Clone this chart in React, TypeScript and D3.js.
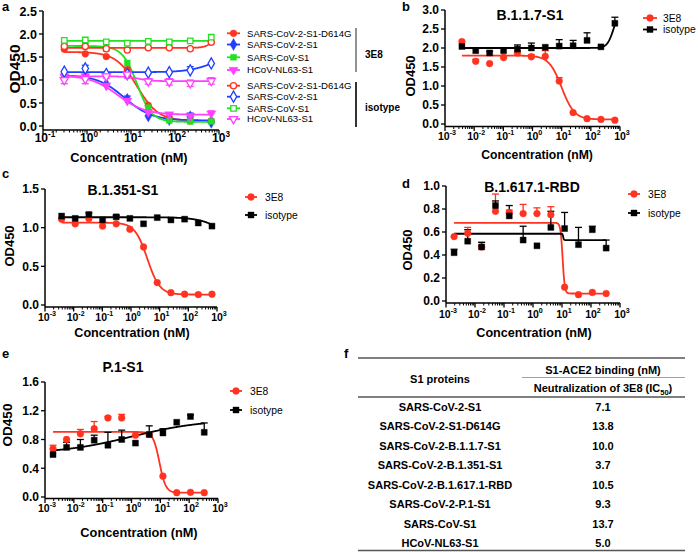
import React from "react";
import * as d3 from "d3";

const FONT = "'Liberation Sans', Arial, Helvetica, sans-serif";
const RED = "#ff3320";
const BLUE = "#2040ff";
const GREEN = "#22e022";
const MAGENTA = "#ff40ff";
const BLACK = "#000000";

// ---------- Panel a data ----------
const concA = [0.305, 0.914, 2.74, 8.23, 24.7, 74.1, 222, 667];
const aD614G3E8 = [1.67, 1.57, 1.51, 1.23, 0.45, 0.19, 0.11, 0.11];
const aCov2S13E8 = [1.1, 1.08, 0.91, 0.58, 0.22, 0.14, 0.2, 0.08];
const aCovS13E8 = [1.78, 1.74, 1.68, 1.37, 0.4, 0.12, 0.1, 0.1];
const aNL633E8 = [1.08, 1.08, 0.88, 0.55, 0.3, 0.25, 0.22, 0.27];
const aD614GIso = [1.73, 1.73, 1.68, 1.65, 1.7, 1.7, 1.68, 1.82];
const aCov2S1Iso = [1.18, 1.25, 1.13, 1.13, 1.16, 1.17, 1.21, 1.36];
const aCovS1Iso = [1.86, 1.87, 1.83, 1.8, 1.84, 1.83, 1.85, 1.93];
const aNL63Iso = [1.0, 1.02, 1.08, 1.12, 0.97, 0.96, 0.93, 0.98];
const aCov2S13E8Err = [null, null, null, 0.65, null, null, 0.28, null];
const aCov2S1IsoErr = [null, 1.32, null, null, null, null, 1.29, null];
const aNL633E8Err = [null, null, null, null, null, null, null, 0.33];
const aNL63IsoSd = [0.08, 0.1, 0.04, 0.08, 0.06, 0.07, 0.07, 0.07];
const seriesLabelsA = ["SARS-CoV-2-S1-D614G", "SARS-CoV-2-S1", "SARS-CoV-S1", "HCoV-NL63-S1"];
const xExpA = [-1, 0, 1, 2, 3];
const yTicksA = [0, 0.5, 1.0, 1.5, 2.0, 2.5];

// ---------- Panel b–e data ----------
const concBC = [0.0038, 0.0113, 0.0339, 0.102, 0.305, 0.914, 2.74, 8.23, 24.7, 74.1, 222, 667];
const concDE = [0.0019, 0.0056, 0.0169, 0.0508, 0.152, 0.457, 1.37, 4.12, 12.3, 37.0, 111, 333];
const xExpWide = [-3, -2, -1, 0, 1, 2, 3];

const b3E8 = [2.17, 1.65, 1.59, 1.75, 1.87, 1.77, 1.78, 1.13, 0.3, 0.14, 0.12, 0.1];
const b3E8Err = [null, 1.7, null, 1.8, 1.92, 1.82, 1.93, 1.22, null, null, null, null];
const bIso = [2.04, 1.93, 1.87, 1.93, 1.97, 2.0, 2.02, 2.05, 2.06, 2.2, 2.03, 2.65];
const bIsoErr = [null, null, 1.91, null, 2.08, 2.13, null, 2.22, 2.2, 2.4, null, 2.81];
const yTicksB = [0, 0.5, 1.0, 1.5, 2.0, 2.5, 3.0];

const c3E8 = [1.11, 1.05, 1.12, 1.02, 1.05, 0.98, 0.75, 0.29, 0.16, 0.14, 0.135, 0.14];
const cIso = [1.15, 1.12, 1.17, 1.1, 1.14, 1.12, 1.05, 1.13, 1.1, 1.11, 1.06, 1.02];
const cIsoErr = [null, null, 1.19, null, 1.16, null, null, null, null, 1.12, null, null];
const yTicksC = [0, 0.5, 1.0, 1.5];

const d3E8 = [0.56, 0.59, 0.47, 0.78, 0.77, 0.76, 0.76, 0.75, 0.12, 0.055, 0.075, 0.065];
const d3E8Err = [null, 0.64, 0.51, 0.93, 0.79, 0.84, 0.81, 0.82, null, null, null, null];
const dIso = [0.42, 0.52, 0.47, 0.83, 0.74, 0.53, 0.48, 0.64, 0.63, 0.49, 0.62, 0.46];
const dIsoErr = [0.45, 0.62, 0.51, 0.87, 0.83, 0.65, null, 0.78, 0.77, 0.64, 0.65, 0.53];
const yTicksD = [0, 0.2, 0.4, 0.6, 0.8, 1.0];

const e3E8 = [0.67, 0.8, 0.88, 0.95, 1.1, 1.1, 0.86, 0.87, 0.29, 0.06, 0.065, 0.06];
const e3E8Err = [0.72, null, 0.94, 1.05, 1.12, 1.15, null, null, null, null, null, null];
const eIso = [0.59, 0.69, 0.69, 0.79, 0.72, 0.8, 0.75, 0.87, 0.89, 1.04, 1.12, 0.9];
const eIsoErr = [null, 0.76, 0.8, 0.86, 0.9, 0.93, null, 0.99, 0.95, null, 1.14, 1.03];
const yTicksE = [0, 0.4, 0.8, 1.2, 1.6];

// fitted curve parameters: [low-conc plateau, high-conc plateau, midpoint (nM), hill]
const fitA = {
  d614g3e8: [1.61, 0.11, 13.8, 1.8],
  cov2s13e8: [1.11, 0.12, 7.1, 1.4],
  covs13e8: [1.74, 0.09, 13.7, 2.6],
  nl633e8: [1.1, 0.245, 5.0, 1.4],
  d614gIso: [1.7, 1.95, 700, 5],
  cov2s1Iso: [1.17, 1.6, 800, 1.5],
  covs1Iso: [1.85, 1.85, 100, 1],
  nl63Iso: [1.08, 0.975, 15, 3],
};
const fitB = { e8: [1.8, 0.12, 10.0, 2.0], iso: [2.0, 3.0, 600, 4] };
const fitC = { e8: [1.065, 0.135, 3.7, 2.0], iso: [1.135, 0.6, 3000, 1] };
const fitD = { e8: [0.68, 0.065, 10.5, 12], iso: [0.585, 0.53, 11, 40] };
const fitE = { e8: [0.905, 0.06, 9.3, 4], iso: [0.6, 1.08, 1, 0.35] };

// ---------- table ----------
const tableProteins = [
  "SARS-CoV-2-S1",
  "SARS-CoV-2-S1-D614G",
  "SARS-CoV-2-B.1.1.7-S1",
  "SARS-CoV-2-B.1.351-S1",
  "SARS-CoV-2-B.1.617.1-RBD",
  "SARS-CoV-2-P.1-S1",
  "SARS-CoV-S1",
  "HCoV-NL63-S1",
];
const tableIC50 = ["7.1", "13.8", "10.0", "3.7", "10.5", "9.3", "13.7", "5.0"];

type Shape = "circle" | "square" | "diamond" | "triDown";
interface Series {
  label: string;
  color: string;
  shape: Shape;
  filled: boolean;
  conc: number[];
  values: number[];
  errUp?: (number | null)[];
  errSd?: number[];
  fit: number[];
}

function fourPL(x: number, p: number[]) {
  const [start, end, mid, hill] = p;
  return end + (start - end) / (1 + Math.pow(x / mid, hill));
}

function symPath(shape: Shape, filled: boolean) {
  const s = filled ? 36 : 30;
  const t =
    shape === "circle" ? d3.symbolCircle :
    shape === "square" ? d3.symbolSquare :
    shape === "diamond" ? d3.symbolDiamond : d3.symbolTriangle;
  return d3.symbol(t, shape === "diamond" ? s + 6 : s)() as string;
}

function Marker({ s, x, y }: { s: Series; x: number; y: number }) {
  return (
    <path
      d={symPath(s.shape, s.filled)}
      transform={`translate(${x},${y})${s.shape === "triDown" ? " rotate(180)" : ""}`}
      fill={s.filled ? s.color : "#ffffff"}
      stroke={s.color}
      strokeWidth={s.filled ? 0.4 : 1.3}
    />
  );
}

interface PanelCfg {
  x0: number; x1: number; yTop: number; yZero: number; axisY: number;
  xDomain: [number, number]; yMax: number;
  yTicks: number[]; xExps: number[];
  title?: string; titleX?: number; titleY?: number;
  letter: string; letterX: number; letterY: number;
  ylabX: number; ylabY: number; ylabSize: number;
  xlabX: number; xlabY: number; xlabSize: number;
  xTickY: number; xTickSize: number; yTickSize: number;
  series: Series[];
  legend?: { lx0: number; lx1: number; tx: number; rows: number[]; size: number };
}

function Panel({ c }: { c: PanelCfg }) {
  const x = d3.scaleLog().domain(c.xDomain).range([c.x0, c.x1]);
  const y = d3.scaleLinear().domain([0, c.yMax]).range([c.yZero, c.yTop]);
  const minor: number[] = [];
  for (let i = 0; i < c.xExps.length - 1; i++) {
    for (let k = 2; k <= 9; k++) minor.push(k * Math.pow(10, c.xExps[i]));
  }
  return (
    <g fontFamily={FONT}>
      <text x={c.letterX} y={c.letterY} fontSize={13} fontWeight="bold">{c.letter}</text>
      {c.title && (
        <text x={c.titleX} y={c.titleY} fontSize={14} fontWeight="bold" textAnchor="middle">{c.title}</text>
      )}
      {/* axes */}
      <line x1={c.x0} x2={c.x0} y1={c.yTop} y2={c.axisY} stroke="#000" strokeWidth={1.5} />
      <line x1={c.x0} x2={c.x1} y1={c.axisY} y2={c.axisY} stroke="#000" strokeWidth={1.5} />
      {c.yTicks.map((t) => (
        <g key={"yt" + t}>
          <line x1={c.x0 - 4} x2={c.x0} y1={y(t)} y2={y(t)} stroke="#000" strokeWidth={1.3} />
          <text x={c.x0 - 6} y={y(t)} dy="0.36em" textAnchor="end" fontSize={c.yTickSize} fontWeight="bold">
            {t.toFixed(1)}
          </text>
        </g>
      ))}
      {minor.map((m) => (
        <line key={"mn" + m} x1={x(m)} x2={x(m)} y1={c.axisY} y2={c.axisY + 2.5} stroke="#000" strokeWidth={1} />
      ))}
      {c.xExps.map((e) => {
        const px = x(Math.pow(10, e));
        return (
          <g key={"xe" + e}>
            <line x1={px} x2={px} y1={c.axisY} y2={c.axisY + 4.5} stroke="#000" strokeWidth={1.3} />
            <text x={px + 2} y={c.xTickY} textAnchor="middle" fontSize={c.xTickSize} fontWeight="bold">
              10
              <tspan dy={-c.xTickSize * 0.45} fontSize={c.xTickSize * 0.68}>{String(e)}</tspan>
            </text>
          </g>
        );
      })}
      <text
        transform={`translate(${c.ylabX},${c.ylabY}) rotate(-90)`}
        textAnchor="middle" fontSize={c.ylabSize} fontWeight="bold"
      >OD450</text>
      <text x={c.xlabX} y={c.xlabY} textAnchor="middle" fontSize={c.xlabSize} fontWeight="bold">
        Concentration (nM)
      </text>
      {/* curves */}
      {c.series.map((s, si) => {
        const lo = Math.log10(d3.min(s.conc) as number);
        const hi = Math.log10(d3.max(s.conc) as number);
        const xs = d3.range(0, 301).map((i) => Math.pow(10, lo + ((hi - lo) * i) / 300));
        const path = d3.line<number>().x((v) => x(v)).y((v) => y(fourPL(v, s.fit)))(xs) as string;
        return <path key={"cv" + si} d={path} fill="none" stroke={s.color} strokeWidth={1.8} />;
      })}
      {/* error bars */}
      {c.series.map((s, si) => (
        <g key={"eb" + si} stroke={s.color} strokeWidth={1.3}>
          {s.conc.map((cc, i) => {
            const px = x(cc);
            const v = s.values[i];
            let top: number | null = null;
            let bot: number | null = null;
            if (s.errUp && s.errUp[i] != null) top = s.errUp[i] as number;
            if (s.errSd) { top = v + s.errSd[i]; bot = v - s.errSd[i]; }
            if (top == null) return null;
            return (
              <g key={i}>
                <line x1={px} x2={px} y1={y(bot ?? v)} y2={y(top)} />
                <line x1={px - 3.5} x2={px + 3.5} y1={y(top)} y2={y(top)} />
                {bot != null && <line x1={px - 3.5} x2={px + 3.5} y1={y(bot)} y2={y(bot)} />}
              </g>
            );
          })}
        </g>
      ))}
      {/* markers */}
      {c.series.map((s, si) => (
        <g key={"mk" + si}>
          {s.conc.map((cc, i) => <Marker key={i} s={s} x={x(cc)} y={y(s.values[i])} />)}
        </g>
      ))}
      {/* legend */}
      {c.legend && c.series.map((s, si) => {
        const L = c.legend!;
        const ry = L.rows[si];
        return (
          <g key={"lg" + si}>
            <line x1={L.lx0} x2={L.lx1} y1={ry} y2={ry} stroke={s.color} strokeWidth={1.8} />
            <Marker s={s} x={(L.lx0 + L.lx1) / 2} y={ry} />
            <text x={L.tx} y={ry} dy="0.36em" fontSize={L.size}>{s.label}</text>
          </g>
        );
      })}
    </g>
  );
}

const seriesA: Series[] = [
  { label: seriesLabelsA[0], color: RED, shape: "circle", filled: true, conc: concA, values: aD614G3E8, fit: fitA.d614g3e8 },
  { label: seriesLabelsA[1], color: BLUE, shape: "diamond", filled: true, conc: concA, values: aCov2S13E8, errUp: aCov2S13E8Err, fit: fitA.cov2s13e8 },
  { label: seriesLabelsA[2], color: GREEN, shape: "square", filled: true, conc: concA, values: aCovS13E8, fit: fitA.covs13e8 },
  { label: seriesLabelsA[3], color: MAGENTA, shape: "triDown", filled: true, conc: concA, values: aNL633E8, errUp: aNL633E8Err, fit: fitA.nl633e8 },
  { label: seriesLabelsA[0], color: RED, shape: "circle", filled: false, conc: concA, values: aD614GIso, fit: fitA.d614gIso },
  { label: seriesLabelsA[1], color: BLUE, shape: "diamond", filled: false, conc: concA, values: aCov2S1Iso, errUp: aCov2S1IsoErr, fit: fitA.cov2s1Iso },
  { label: seriesLabelsA[2], color: GREEN, shape: "square", filled: false, conc: concA, values: aCovS1Iso, fit: fitA.covs1Iso },
  { label: seriesLabelsA[3], color: MAGENTA, shape: "triDown", filled: false, conc: concA, values: aNL63Iso, errSd: aNL63IsoSd, fit: fitA.nl63Iso },
];

function pair(conc: number[], v1: number[], e1: (number | null)[] | undefined, f1: number[], v2: number[], e2: (number | null)[] | undefined, f2: number[]): Series[] {
  return [
    { label: "3E8", color: RED, shape: "circle", filled: true, conc, values: v1, errUp: e1, fit: f1 },
    { label: "isotype", color: BLACK, shape: "square", filled: true, conc, values: v2, errUp: e2, fit: f2 },
  ];
}

const panels: PanelCfg[] = [
  {
    x0: 43, x1: 219, yTop: 11, yZero: 126, axisY: 130, xDomain: [0.1, 1000], yMax: 2.5,
    yTicks: yTicksA, xExps: xExpA, letter: "a", letterX: 2, letterY: 11,
    ylabX: 19.5, ylabY: 69, ylabSize: 15.5, xlabX: 129, xlabY: 162, xlabSize: 12.8,
    xTickY: 142, xTickSize: 12, yTickSize: 12.5, series: seriesA,
    legend: { lx0: 227, lx1: 240, tx: 247, rows: [33.3, 44.5, 57.3, 70, 85.7, 96.7, 108.3, 119], size: 9.6 },
  },
  {
    x0: 445, x1: 620, yTop: 10, yZero: 124, axisY: 126.5, xDomain: [0.001, 1000], yMax: 3,
    yTicks: yTicksB, xExps: xExpWide, title: "B.1.1.7-S1", titleX: 530, titleY: 20,
    letter: "b", letterX: 402, letterY: 11,
    ylabX: 415, ylabY: 76, ylabSize: 13, xlabX: 537, xlabY: 159, xlabSize: 12.2,
    xTickY: 140, xTickSize: 10.5, yTickSize: 12,
    series: pair(concBC, b3E8, b3E8Err, fitB.e8, bIso, bIsoErr, fitB.iso),
    legend: { lx0: 643, lx1: 657, tx: 663, rows: [18, 29.5], size: 10.3 },
  },
  {
    x0: 45, x1: 217, yTop: 189, yZero: 305, axisY: 307, xDomain: [0.001, 1000], yMax: 1.5,
    yTicks: yTicksC, xExps: xExpWide, title: "B.1.351-S1", titleX: 123, titleY: 195,
    letter: "c", letterX: 2, letterY: 178,
    ylabX: 14, ylabY: 246, ylabSize: 13, xlabX: 132, xlabY: 337, xlabSize: 12.6,
    xTickY: 321, xTickSize: 10.5, yTickSize: 12,
    series: pair(concBC, c3E8, undefined, fitC.e8, cIso, cIsoErr, fitC.iso),
    legend: { lx0: 245, lx1: 257, tx: 265, rows: [197, 215], size: 10.3 },
  },
  {
    x0: 446, x1: 620, yTop: 186, yZero: 301, axisY: 303, xDomain: [0.001, 1000], yMax: 1.0,
    yTicks: yTicksD, xExps: xExpWide, title: "B.1.617.1-RBD", titleX: 532, titleY: 192,
    letter: "d", letterX: 402, letterY: 188,
    ylabX: 412, ylabY: 250, ylabSize: 13, xlabX: 534, xlabY: 337, xlabSize: 12.6,
    xTickY: 318, xTickSize: 10.5, yTickSize: 12,
    series: pair(concDE, d3E8, d3E8Err, fitD.e8, dIso, dIsoErr, fitD.iso),
    legend: { lx0: 628, lx1: 640, tx: 648, rows: [194, 213], size: 10.3 },
  },
  {
    x0: 45, x1: 218, yTop: 382, yZero: 497, axisY: 498.5, xDomain: [0.001, 1000], yMax: 1.6,
    yTicks: yTicksE, xExps: xExpWide, title: "P.1-S1", titleX: 123, titleY: 372,
    letter: "e", letterX: 2, letterY: 358,
    ylabX: 12, ylabY: 425, ylabSize: 13.5, xlabX: 139, xlabY: 537, xlabSize: 12.8,
    xTickY: 512, xTickSize: 10.5, yTickSize: 12,
    series: pair(concDE, e3E8, e3E8Err, fitE.e8, eIso, eIsoErr, fitE.iso),
    legend: { lx0: 230, lx1: 242, tx: 250, rows: [391, 410], size: 10.3 },
  },
];

function Table() {
  const rowY = d3.scaleLinear().domain([0, tableProteins.length - 1]).range([407, 543]);
  return (
    <g fontFamily={FONT} fontWeight="bold" fontSize={11}>
      <text x={344} y={358} fontSize={13}>f</text>
      <line x1={358} x2={685} y1={358} y2={358} stroke="#555" strokeWidth={1.3} />
      <text x={603} y={374} textAnchor="middle">S1-ACE2 binding (nM)</text>
      <line x1={522} x2={685} y1={377.5} y2={377.5} stroke="#888" strokeWidth={0.8} />
      <text x={440} y={383} textAnchor="middle">S1 proteins</text>
      <text x={603} y={392} textAnchor="middle">
        Neutralization of 3E8 (IC<tspan fontSize={7.5} dy={2.5}>50</tspan><tspan dy={-2.5}>)</tspan>
      </text>
      <line x1={358} x2={685} y1={397} y2={397} stroke="#555" strokeWidth={1.3} />
      {tableProteins.map((p, i) => (
        <g key={p}>
          <text x={440} y={rowY(i)} dy="0.36em" textAnchor="middle">{p}</text>
          <text x={603} y={rowY(i)} dy="0.36em" textAnchor="middle">{tableIC50[i]}</text>
        </g>
      ))}
      <line x1={358} x2={685} y1={550.5} y2={550.5} stroke="#555" strokeWidth={1.3} />
    </g>
  );
}

export default function App() {
  return (
    <svg width={698} height={552} viewBox="0 0 698 552" style={{ position: "absolute", left: 0, top: 0, background: "#fff" }}>
      <rect width={698} height={552} fill="#fff" />
      {panels.map((p, i) => <Panel key={i} c={p} />)}
      {/* group brackets for panel a legend */}
      <line x1={356} x2={356} y1={28} y2={72} stroke="#777" strokeWidth={1.6} />
      <line x1={356} x2={356} y1={82} y2={127} stroke="#000" strokeWidth={1.6} />
      <text x={365} y={58} fontFamily={FONT} fontWeight="bold" fontSize={10}>3E8</text>
      <text x={365} y={111} fontFamily={FONT} fontWeight="bold" fontSize={10}>isotype</text>
      <Table />
    </svg>
  );
}
